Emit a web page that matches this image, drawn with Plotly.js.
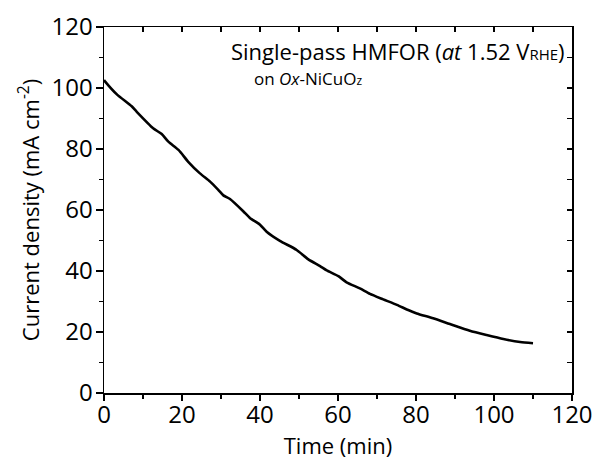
<!DOCTYPE html>
<html>
<head>
<meta charset="utf-8">
<script src="https://cdn.plot.ly/plotly-3.0.1.min.js"></script>
<style>html,body{margin:0;padding:0;background:#fff;}#chart{width:600px;height:461px;}</style>
</head>
<body>
<div id="chart"></div>
<script>
const timeMin = [0, 0.3, 3.3, 7.1, 8.4, 12.6, 14.8, 16.5, 19.1, 21.6, 24.6, 27.2, 29.3, 30.6, 32.3, 35.7, 37.4, 40, 41.7, 45.1, 49.4, 52.4, 55.4, 57.1, 60.1, 62.2, 65.6, 68.2, 71.6, 75.1, 78.0, 80.2, 84.4, 88.7, 93.8, 98.1, 102.4, 106.7, 110];
const currentDensity = [102.6, 102.1, 97.9, 94.0, 92.2, 86.8, 84.9, 82.4, 79.7, 75.8, 72.0, 69.3, 66.6, 64.8, 63.6, 59.6, 57.4, 55.2, 52.9, 49.9, 46.9, 43.8, 41.6, 40.2, 38.3, 36.3, 34.3, 32.5, 30.7, 28.9, 27.2, 26.1, 24.5, 22.6, 20.4, 19.0, 17.7, 16.7, 16.3];
const xTicks = [0, 20, 40, 60, 80, 100, 120];
const yTicks = [0, 20, 40, 60, 80, 100, 120];

const FONT = "'Open Sans', sans-serif";

const data = [
  {x: timeMin, y: currentDensity, type: 'scatter', mode: 'lines',
   line: {color: '#000', width: 2.6, shape: 'spline', smoothing: 0.6}, hoverinfo: 'skip', showlegend: false},
  // carrier for the mirrored (top/right) frame axes; drawn fully transparent
  {x: timeMin, y: currentDensity, xaxis: 'x2', yaxis: 'y2', type: 'scatter', mode: 'lines',
   line: {color: 'rgba(0,0,0,0)', width: 0}, hoverinfo: 'skip', showlegend: false}
];

const layout = {
  width: 600, height: 461,
  margin: {l: 104, r: 28, t: 27, b: 68},
  paper_bgcolor: '#fff', plot_bgcolor: '#fff',
  font: {family: FONT, color: '#000', size: 24},
  showlegend: false,
  xaxis: {
    range: [0, 120], tickvals: xTicks, ticktext: xTicks.map(String),
    ticks: 'outside', ticklen: 6, tickwidth: 1.3, tickcolor: '#000',
    minor: {dtick: 10, ticks: 'outside', ticklen: 4, tickwidth: 1.3, tickcolor: '#000'},
    showline: true, linecolor: '#000', linewidth: 1.5, showgrid: false, zeroline: false,
    tickfont: {size: 24, family: FONT}, ticklabelstandoff: -6,
    title: {text: 'Time (min)', font: {size: 22, family: FONT}, standoff: 0}
  },
  yaxis: {
    range: [0, 120], tickvals: yTicks, ticktext: yTicks.map(String),
    ticks: 'outside', ticklen: 7, tickwidth: 1.3, tickcolor: '#000',
    minor: {dtick: 10, ticks: 'outside', ticklen: 4, tickwidth: 1.3, tickcolor: '#000'},
    showline: true, linecolor: '#000', linewidth: 1.5, showgrid: false, zeroline: false,
    tickfont: {size: 24, family: FONT}, ticklabelstandoff: -2,
    title: {text: 'Current density (mA cm<sup>-2</sup>)', font: {size: 22, family: FONT}, standoff: 6}
  },
  xaxis2: {
    overlaying: 'x', side: 'top', anchor: 'y2', range: [0, 120], dtick: 10,
    ticks: 'inside', ticklen: 5, tickwidth: 1.3, tickcolor: '#000',
    showticklabels: false, showline: true, linecolor: '#000', linewidth: 1.5,
    showgrid: false, zeroline: false
  },
  yaxis2: {
    overlaying: 'y', side: 'right', anchor: 'x2', range: [0, 120], dtick: 10,
    ticks: 'inside', ticklen: 5, tickwidth: 1.3, tickcolor: '#000',
    showticklabels: false, showline: true, linecolor: '#000', linewidth: 1.5,
    showgrid: false, zeroline: false
  },
  annotations: [
    {xref: 'paper', yref: 'paper', x: 0.99, y: 0.934, xanchor: 'right', yanchor: 'middle',
     text: 'Single-pass HMFOR (<i>at</i> 1.52 V<span style="font-size:15px">RHE</span>)', showarrow: false,
     font: {size: 22, family: FONT, color: '#000'}},
    {xref: 'paper', yref: 'paper', x: 0.317, y: 0.858, xanchor: 'left', yanchor: 'middle',
     text: 'on <i>Ox</i>-NiCuO<span style="font-size:12px">z</span>', showarrow: false,
     font: {size: 17, family: FONT, color: '#000'}}
  ]
};

Plotly.newPlot('chart', data, layout, {displayModeBar: false, staticPlot: true});
</script>
</body>
</html>
